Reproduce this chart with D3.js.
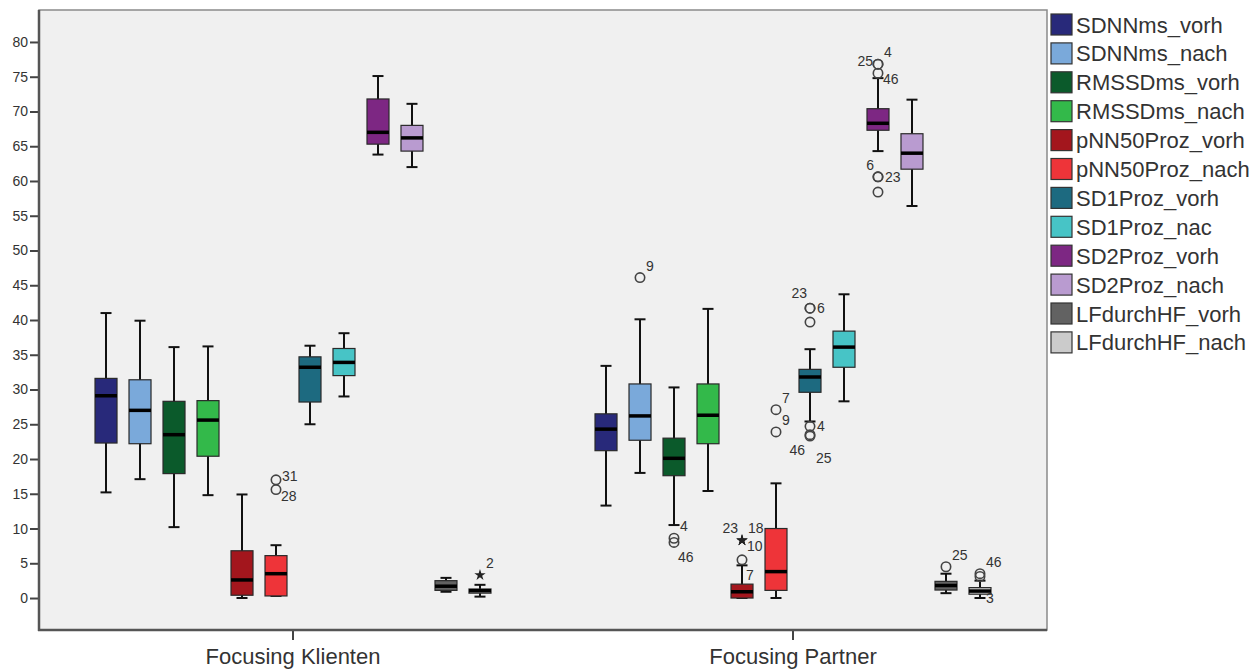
<!DOCTYPE html>
<html>
<head>
<meta charset="utf-8">
<script src="https://cdn.jsdelivr.net/npm/d3@7"></script>
<style>
    body { margin: 0; background: #fff; }
    svg { display: block; font-family: "Liberation Sans", Arial, sans-serif; }
    .axis text { fill: #333; }
    .lab { fill: #333; font-size: 14px; }
</style>
</head>
<body>
<svg id="chart" width="1258" height="672"></svg>
<script>
// categories + variables
var groups = ["Focusing Klienten", "Focusing Partner"];
var variables = ["SDNNms_vorh", "SDNNms_nach", "RMSSDms_vorh", "RMSSDms_nach",
    "pNN50Proz_vorh", "pNN50Proz_nach", "SD1Proz_vorh", "SD1Proz_nac",
    "SD2Proz_vorh", "SD2Proz_nach", "LFdurchHF_vorh", "LFdurchHF_nach"];
var colors = ["#28297a", "#7aa9da", "#0b5a2b", "#33b94a", "#a3161d", "#ee3439",
    "#1d6a80", "#47c4c6", "#7d2783", "#b99bd0", "#626262", "#cbcbcb"];
var yTicks = [0, 5, 10, 15, 20, 25, 30, 35, 40, 45, 50, 55, 60, 65, 70, 75, 80];

// [whisker low, Q1, median, Q3, whisker high]
var statsKlienten = [
    [15.2, 22.3, 29.1, 31.6, 41.0],
    [17.1, 22.2, 27.0, 31.4, 39.9],
    [10.2, 17.9, 23.5, 28.3, 36.1],
    [14.8, 20.4, 25.6, 28.4, 36.2],
    [0.0, 0.4, 2.6, 6.8, 14.9],
    [0.3, 0.3, 3.5, 6.1, 7.6],
    [25.0, 28.2, 33.2, 34.7, 36.3],
    [29.0, 32.0, 33.9, 35.9, 38.1],
    [63.8, 65.3, 67.0, 71.8, 75.1],
    [62.0, 64.3, 66.2, 68.0, 71.1],
    [0.9, 1.1, 1.7, 2.5, 2.9],
    [0.2, 0.7, 1.05, 1.3, 1.9]
];
var statsPartner = [
    [13.3, 21.2, 24.3, 26.5, 33.4],
    [18.0, 22.7, 26.2, 30.8, 40.1],
    [10.5, 17.6, 20.1, 23.0, 30.3],
    [15.4, 22.2, 26.3, 30.8, 41.6],
    [0.0, 0.0, 0.9, 2.0, 4.7],
    [0.0, 1.1, 3.8, 10.0, 16.5],
    [25.4, 29.6, 31.8, 32.9, 35.8],
    [28.3, 33.2, 36.1, 38.4, 43.7],
    [64.3, 67.3, 68.3, 70.4, 74.8],
    [56.4, 61.7, 64.0, 66.8, 71.7],
    [0.7, 1.15, 1.8, 2.4, 3.5],
    [0.0, 0.55, 1.0, 1.5, 2.5]
];

// outliers: variable index, value, case label, kind (o = circle, x = star), label spot
var outliersKlienten = [
    {v: 5, value: 17.0, id: "31", kind: "o", pos: "eUp"},
    {v: 5, value: 15.6, id: "28", kind: "o", pos: "eDown"},
    {v: 11, value: 3.3, id: "2", kind: "x", pos: "ne"}
];
var outliersPartner = [
    {v: 1, value: 46.1, id: "9", kind: "o", pos: "ne"},
    {v: 2, value: 8.6, id: "4", kind: "o", pos: "ne"},
    {v: 2, value: 8.0, id: "46", kind: "o", pos: "sFar"},
    {v: 4, value: 8.3, id: "23", kind: "x", pos: "nw"},
    {v: 4, value: 8.3, id: "18", kind: "x", pos: "ne"},
    {v: 4, value: 8.3, id: "10", kind: "x", pos: "eDown"},
    {v: 4, value: 5.5, id: "7", kind: "o", pos: "sFar"},
    {v: 5, value: 27.1, id: "7", kind: "o", pos: "ne"},
    {v: 5, value: 23.9, id: "9", kind: "o", pos: "ne"},
    {v: 6, value: 41.7, id: "23", kind: "o", pos: "nwHigh"},
    {v: 6, value: 41.7, id: "6", kind: "o", pos: "e"},
    {v: 6, value: 39.7, id: "", kind: "o", pos: "e"},
    {v: 6, value: 24.7, id: "4", kind: "o", pos: "e"},
    {v: 6, value: 23.5, id: "46", kind: "o", pos: "swFar"},
    {v: 6, value: 23.3, id: "25", kind: "o", pos: "seFar"},
    {v: 8, value: 76.8, id: "25", kind: "o", pos: "w"},
    {v: 8, value: 76.8, id: "4", kind: "o", pos: "ne"},
    {v: 8, value: 75.5, id: "46", kind: "o", pos: "eDown"},
    {v: 8, value: 60.6, id: "6", kind: "o", pos: "nw"},
    {v: 8, value: 60.6, id: "23", kind: "o", pos: "e"},
    {v: 8, value: 58.4, id: "", kind: "o", pos: "e"},
    {v: 10, value: 4.5, id: "25", kind: "o", pos: "ne"},
    {v: 11, value: 3.5, id: "46", kind: "o", pos: "ne"},
    {v: 11, value: 3.1, id: "3", kind: "o", pos: "seFar"}
];

// label placement relative to the outlier mark
var labelPos = {
    ne: [6, -7, "start"], e: [7, 5, "start"], eUp: [6, 1, "start"], eDown: [5, 11, "start"],
    nw: [-4, -7, "end"], nwHigh: [-3, -10, "end"], w: [-5, 2, "end"],
    sFar: [4, 20, "start"], swFar: [-5, 20, "end"], seFar: [6, 27, "start"]
};

var svg = d3.select("#chart");
var pl = 39, pr = 1047, pt = 10, pb = 630;

var y = d3.scaleLinear().domain([-4.6, 84.6]).range([pb, pt]);
var x0 = d3.scaleBand().domain(groups).range([43, 1043]);
var x1 = d3.scaleBand().domain(variables).range([0, x0.bandwidth()])
        .paddingInner(0.353).paddingOuter(1.53);

// plot frame
svg.append("rect")
        .attr("x", pl).attr("y", pt)
        .attr("width", pr - pl).attr("height", pb - pt)
        .attr("fill", "#f0f0f0")
        .attr("stroke", "#8a8a8a")
        .attr("stroke-width", 1.5);

var yAxis = d3.axisLeft(y).tickValues(yTicks).tickSize(9).tickPadding(2);
var gy = svg.append("g")
        .attr("class", "axis")
        .attr("transform", "translate(" + pl + ",0)")
        .call(yAxis);
gy.select(".domain").remove();
gy.selectAll(".tick line").attr("stroke", "#444").attr("stroke-width", 2);
gy.selectAll("text").style("font-size", "14px");

var xAxis = d3.axisBottom(x0).tickSize(10).tickPadding(8);
var gx = svg.append("g")
        .attr("class", "axis")
        .attr("transform", "translate(0," + pb + ")")
        .call(xAxis);
gx.select(".domain").remove();
gx.selectAll(".tick line").attr("stroke", "#444").attr("stroke-width", 2);
gx.selectAll("text").style("font-size", "22px");

// axis lines on left and bottom
svg.append("line").attr("x1", pl).attr("x2", pl).attr("y1", pt).attr("y2", pb + 1)
        .attr("stroke", "#555").attr("stroke-width", 2.5);
svg.append("line").attr("x1", pl - 1).attr("x2", pr).attr("y1", pb).attr("y2", pb)
        .attr("stroke", "#555").attr("stroke-width", 2.5);

function drawGroup(group, stats, outliers) {
    var g = svg.append("g").attr("transform", "translate(" + x0(group) + ",0)");
    var bw = x1.bandwidth();
    stats.forEach(function (s, i) {
        var cx = x1(variables[i]) + bw / 2;
        var cap = bw / 2;
        // whiskers
        g.append("line").attr("x1", cx).attr("x2", cx)
                .attr("y1", y(s[0])).attr("y2", y(s[4]))
                .attr("stroke", "#111").attr("stroke-width", 2);
        [s[0], s[4]].forEach(function (w) {
            g.append("line").attr("x1", cx - cap / 2).attr("x2", cx + cap / 2)
                    .attr("y1", y(w)).attr("y2", y(w))
                    .attr("stroke", "#111").attr("stroke-width", 2);
        });
        g.append("rect")
                .attr("x", cx - bw / 2).attr("y", y(s[3]))
                .attr("width", bw).attr("height", Math.max(1, y(s[1]) - y(s[3])))
                .attr("fill", colors[i])
                .attr("stroke", "#2a2a2a").attr("stroke-width", 1.2);
        g.append("line").attr("x1", cx - bw / 2).attr("x2", cx + bw / 2)
                .attr("y1", y(s[2])).attr("y2", y(s[2]))
                .attr("stroke", "#000").attr("stroke-width", 3.5);
    });
    outliers.forEach(function (o) {
        var cx = x1(variables[o.v]) + bw / 2;
        var cy = y(o.value);
        if (o.kind == "o") {
            g.append("circle").attr("cx", cx).attr("cy", cy).attr("r", 4.7)
                    .attr("fill", "none").attr("stroke", "#444").attr("stroke-width", 1.6);
        } else {
            g.append("path")
                    .attr("d", d3.symbol().type(d3.symbolStar).size(40)())
                    .attr("transform", "translate(" + cx + "," + cy + ")")
                    .attr("fill", "#222");
        }
        if (o.id != "") {
            var p = labelPos[o.pos];
            g.append("text").attr("class", "lab")
                    .attr("x", cx + p[0]).attr("y", cy + p[1])
                    .attr("text-anchor", p[2])
                    .text(o.id);
        }
    });
}
drawGroup(groups[0], statsKlienten, outliersKlienten);
drawGroup(groups[1], statsPartner, outliersPartner);

// legend
var leg = svg.append("g").attr("transform", "translate(1051,14)");
variables.forEach(function (name, i) {
    var row = leg.append("g").attr("transform", "translate(0," + (i * 28.9) + ")");
    row.append("rect").attr("width", 21).attr("height", 21)
            .attr("fill", colors[i]).attr("stroke", "#333").attr("stroke-width", 1.2);
    row.append("text").attr("x", 25).attr("y", 18.5)
            .style("font-size", "22px").attr("fill", "#333")
            .text(name);
});
</script>
</body>
</html>
